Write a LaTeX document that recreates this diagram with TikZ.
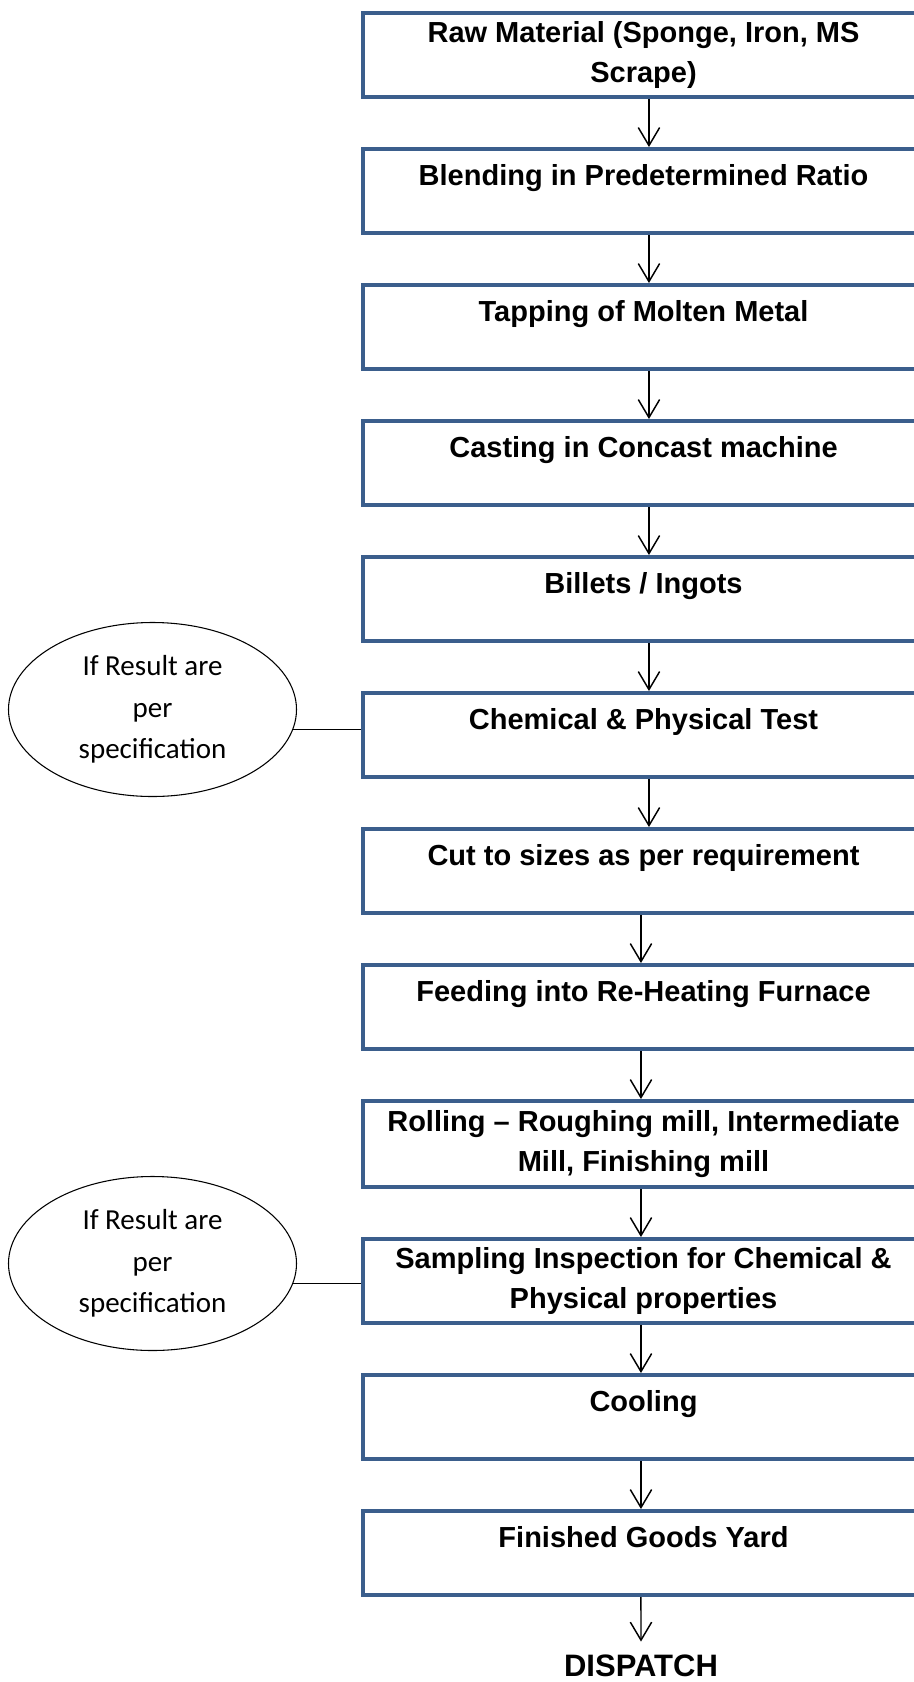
\documentclass[tikz,border=0pt]{standalone}
\usepackage{fontspec}
\usepackage{xcolor}
\usepackage{tikz}
\usetikzlibrary{positioning,arrows.meta,shapes.geometric}
\newfontfamily\arialfont{Liberation Sans}[BoldFont={Liberation Sans Bold}]
\newfontfamily\calibrifont{Carlito}
\definecolor{StepBlue}{HTML}{3B5E8C}

\begin{document}
\begin{tikzpicture}[
  x=0.75pt, y=-0.75pt,
  node distance=36pt,
  box/.style={draw=StepBlue, line width=3pt, fill=white, align=center, minimum width=420.75pt, minimum height=63pt, inner sep=0pt, font=\arialfont\bfseries\fontsize{21.75}{30}\selectfont},
  oneline/.style={text height=16pt, text depth=25pt},
  check/.style={draw, ellipse, line width=0.8pt, align=center, minimum width=216pt, minimum height=130.5pt, inner sep=0pt, font=\calibrifont\fontsize{21.75}{31}\selectfont},
  arrow/.style={-{Straight Barb[length=13.5pt,width=16pt]}, line width=1.1pt},
  link/.style={line width=0.8pt}
]
\useasboundingbox (0,0) rectangle (914,1682);
\clip (0,0) rectangle (914,1682);

% process chain
\node[box] (b1) at (643.5,55) {Raw Material (Sponge, Iron, MS\\Scrape)};
\node[box, oneline, below=of b1] (b2) {Blending in Predetermined Ratio};
\node[box, oneline, below=of b2] (b3) {Tapping of Molten Metal};
\node[box, oneline, below=of b3] (b4) {Casting in Concast machine};
\node[box, oneline, below=of b4] (b5) {Billets / Ingots};
\node[box, oneline, below=of b5] (b6) {Chemical \& Physical Test};
\node[box, oneline, below=of b6] (b7) {Cut to sizes as per requirement};
\node[box, oneline, below=of b7] (b8) {Feeding into Re-Heating Furnace};
\node[box, below=of b8, minimum height=64.5pt] (b9) {Rolling – Roughing mill, Intermediate\\Mill, Finishing mill};
\node[box, below=of b9] (b10) {Sampling Inspection for Chemical \&\\Physical properties};
\node[box, oneline, below=of b10] (b11) {Cooling};
\node[box, oneline, below=of b11] (b12) {Finished Goods Yard};
\node[anchor=base, inner xsep=0pt, inner ysep=9.4pt, font=\arialfont\bfseries\fontsize{23.25}{28}\selectfont] (dispatch) at (641,1676) {DISPATCH};

% quality checks
\node[check] (e1) at (152.5,709.5) {If Result are\\per\\specification};
\node[check] (e2) at (152.5,1263.5) {If Result are\\per\\specification};

\foreach \i/\j/\dx in {1/2/4.1pt,2/3/4.1pt,3/4/4.1pt,4/5/4.1pt,5/6/4.1pt,6/7/4.1pt,7/8/-1.9pt,8/9/-1.9pt,9/10/-1.9pt,10/11/-1.9pt,11/12/-1.9pt}
  \draw[arrow] ([xshift=\dx]b\i.south) -- ([xshift=\dx]b\j.north);
\draw[arrow] ([xshift=-1.9pt]b12.south) -- (dispatch.north);

\draw[link] (e1.-8) -- (e1.-8 -| b6.west);
\draw[link] (e2.-8) -- (e2.-8 -| b10.west);
\end{tikzpicture}
\end{document}
